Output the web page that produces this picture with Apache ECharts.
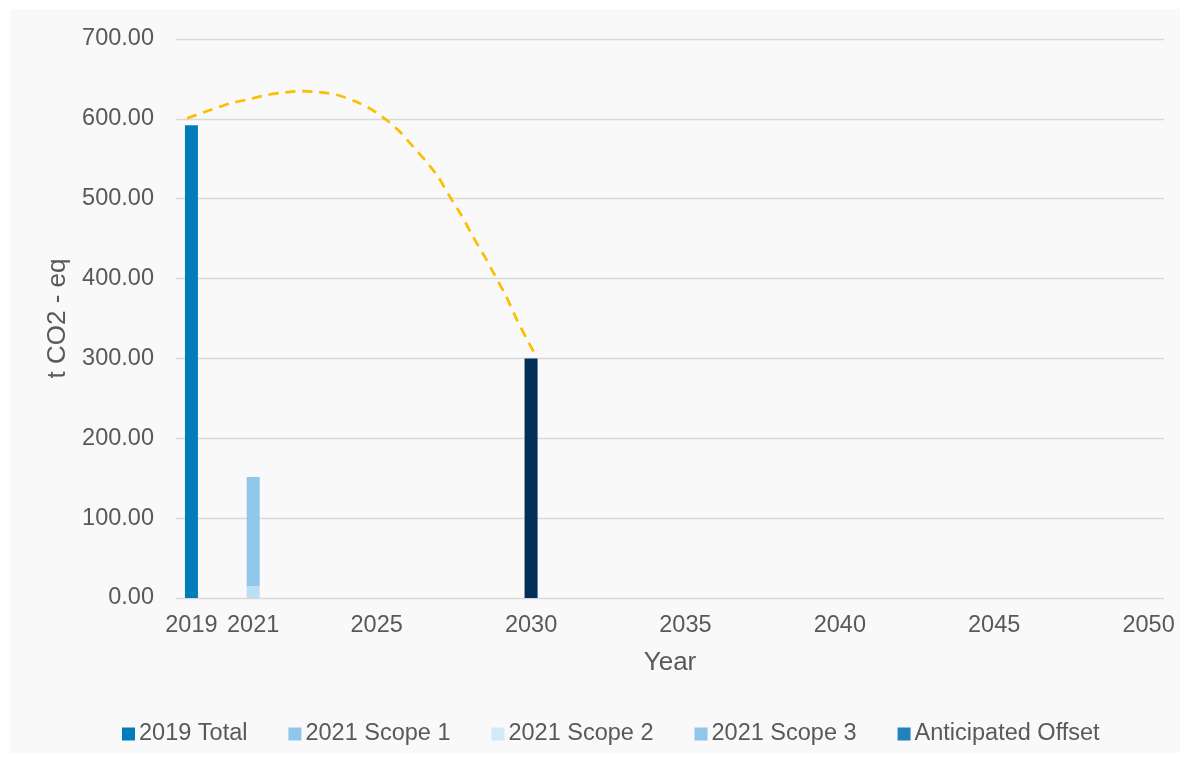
<!DOCTYPE html>
<html>
<head>
<meta charset="utf-8">
<script src="https://cdn.jsdelivr.net/npm/echarts@6/dist/echarts.min.js"></script>
<style>
  html, body { margin: 0; padding: 0; background: #ffffff; }
  #frame { position: absolute; left: 10px; top: 9px; width: 1170px; height: 744px; background: #f9f9f9; }
  #chart { position: absolute; left: 0; top: 0; width: 1190px; height: 763px; }
</style>
</head>
<body>
<div id="frame"></div>
<div id="chart"></div>
<script>
// ---- data ----
const xTickYears = [2019, 2021, 2025, 2030, 2035, 2040, 2045, 2050];
const total2019 = [[2019, 592]];
const scope1_2021 = [[2021, 0]];
const scope2_2021 = [[2021, 15]];
const scope3_2021 = [[2021, 136.5]];
const offset2030 = [[2030, 300]];
const trajectory = [
  [2018.86, 600.7], [2019.54, 610.2], [2020.25, 619.4], [2020.84, 624.4],
  [2021.43, 629.8], [2022.03, 633.2], [2022.51, 634.8], [2023.10, 633.6],
  [2023.70, 630.2], [2024.29, 622.3], [2024.83, 611.9], [2025.32, 598.5],
  [2025.75, 583.9], [2026.18, 565.1], [2026.61, 546.3], [2026.99, 527.5],
  [2027.37, 502.5], [2027.74, 479.6], [2028.12, 452.4], [2028.50, 427.4],
  [2028.82, 404.5], [2029.20, 377.3], [2029.52, 350.2], [2029.85, 325.2],
  [2030.09, 307.7]
];

const textColor = '#595959';
const font = 'Liberation Sans, Arial, sans-serif';
const BAR_W = 13;

// stacked scope series drawn as custom bars through the axis scales
const scopeStack = [scope1_2021, scope2_2021, scope3_2021];
function stackedRender(level, fillOverride) {
  return function (params, api) {
    const i = params.dataIndex;
    let base = 0;
    for (let j = 0; j < level; j++) base += scopeStack[j][i][1];
    const x = api.value(0);
    const v = api.value(1);
    const p0 = api.coord([x, base]);
    const p1 = api.coord([x, base + v]);
    return {
      type: 'rect',
      shape: { x: p0[0] - BAR_W / 2, y: p1[1], width: BAR_W, height: p0[1] - p1[1] },
      style: { fill: fillOverride || api.visual('color') }
    };
  };
}

const chart = echarts.init(document.getElementById('chart'), null, { renderer: 'canvas' });
chart.setOption({
  backgroundColor: 'transparent',
  animation: false,
  textStyle: { fontFamily: font, color: textColor },
  grid: { left: 176, right: 26, top: 39, bottom: 165, containLabel: false },
  legend: {
    data: ['2019 Total', '2021 Scope 1', '2021 Scope 2', '2021 Scope 3', 'Anticipated Offset'],
    top: 717,
    left: 117,
    icon: 'rect',
    itemWidth: 13,
    itemHeight: 13,
    itemGap: 41,
    textStyle: { fontSize: 23.5, color: textColor, fontFamily: font, padding: [0, 0, 0, -1] }
  },
  xAxis: {
    type: 'value',
    min: 2018.5,
    max: 2050.5,
    name: 'Year',
    nameLocation: 'middle',
    nameGap: 52,
    nameTextStyle: { fontSize: 26, color: textColor, fontFamily: font },
    axisLine: { show: false },
    axisTick: { show: false },
    splitLine: { show: false },
    axisLabel: {
      customValues: xTickYears,
      fontSize: 23.5,
      color: textColor,
      margin: 16,
      formatter: v => String(v)
    }
  },
  yAxis: {
    type: 'value',
    min: 0,
    max: 700,
    interval: 100,
    name: 't CO2 - eq',
    nameLocation: 'middle',
    nameGap: 99,
    nameTextStyle: { fontSize: 26, color: textColor, fontFamily: font },
    axisLine: { show: false },
    axisTick: { show: false },
    splitLine: { lineStyle: { color: '#d9d9d9', width: 1.3 } },
    axisLabel: {
      fontSize: 23.5,
      color: textColor,
      margin: 22,
      formatter: v => v.toFixed(2)
    }
  },
  series: [
    {
      name: '2019 Total', type: 'bar', data: total2019, barWidth: BAR_W, barGap: '-100%',
      itemStyle: { color: '#007cba' }
    },
    {
      name: '2021 Scope 1', type: 'custom', data: scope1_2021,
      encode: { x: 0, y: 1 }, renderItem: stackedRender(0),
      itemStyle: { color: '#8fc6ea' }
    },
    {
      name: '2021 Scope 2', type: 'custom', data: scope2_2021,
      encode: { x: 0, y: 1 }, renderItem: stackedRender(1, '#bcdef4'),
      itemStyle: { color: '#d2e9f7' }
    },
    {
      name: '2021 Scope 3', type: 'custom', data: scope3_2021,
      encode: { x: 0, y: 1 }, renderItem: stackedRender(2),
      itemStyle: { color: '#8fc6ea' }
    },
    {
      name: 'Anticipated Offset', type: 'bar',
      data: offset2030.map(d => ({ value: d, itemStyle: { color: '#002f57' } })),
      barWidth: BAR_W, barGap: '-100%',
      itemStyle: { color: '#2381be' }
    },
    {
      name: 'Trajectory', type: 'line', data: trajectory, smooth: 0.2,
      showSymbol: false, symbol: 'none', z: 5,
      lineStyle: { color: '#fbbf00', width: 2.7, type: [10, 7] }
    }
  ]
});
</script>
</body>
</html>
